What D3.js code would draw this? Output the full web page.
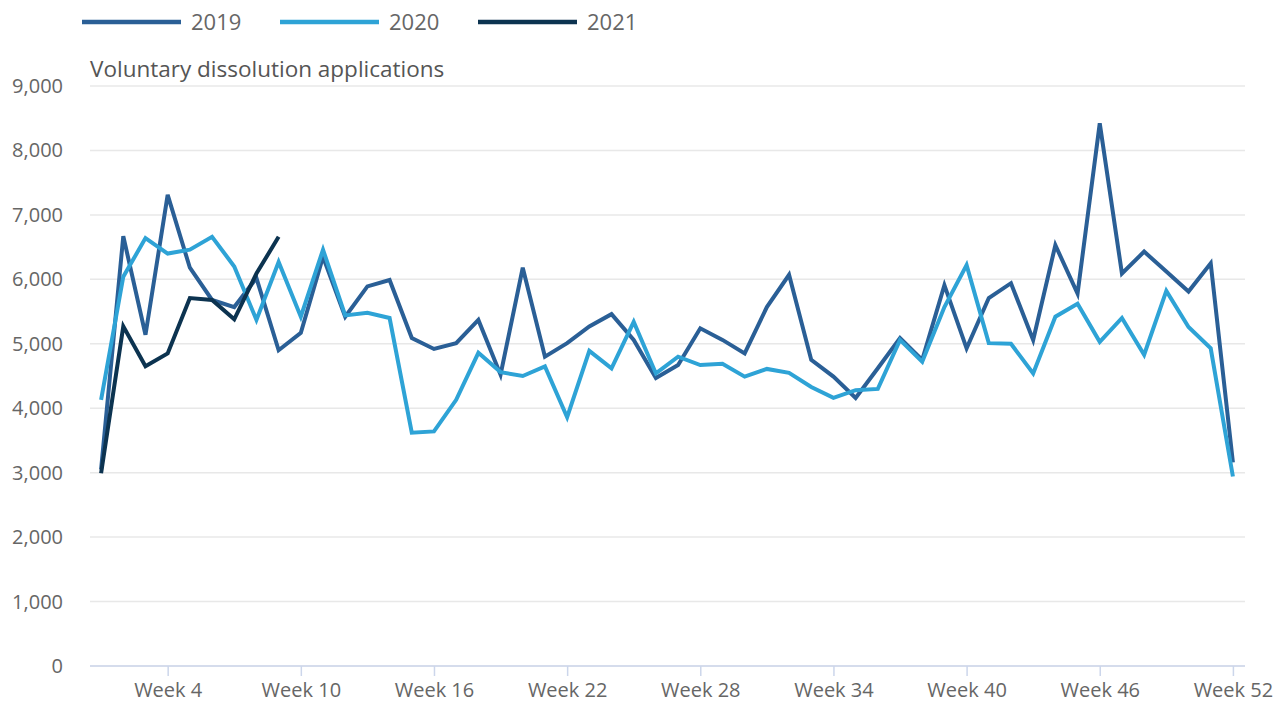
<!DOCTYPE html>
<html>
<head>
<meta charset="utf-8">
<script src="https://cdn.jsdelivr.net/npm/d3@7"></script>
<style>
  body { margin: 0; background: #fff; }
  text { font-family: "Open Sans", sans-serif; }
</style>
</head>
<body>
<div id="chart"></div>
<script>
var years = ["2019", "2020", "2021"];
var colors = ["#2a5f96", "#2ea3d6", "#0c3350"];

var v2019 = [3050, 6670, 5140, 7310, 6180, 5680, 5570, 6020, 4900, 5170,
  6350, 5420, 5890, 5990, 5090, 4920, 5010, 5370, 4520, 6180,
  4800, 5010, 5270, 5460, 5060, 4470, 4670, 5240, 5060, 4850,
  5570, 6070, 4750, 4490, 4160, 4620, 5090, 4750, 5910, 4930,
  5710, 5940, 5060, 6530, 5780, 8420, 6090, 6430, 6120, 5810,
  6250, 3160];
var v2020 = [4130, 6040, 6640, 6400, 6460, 6660, 6200, 5370, 6270, 5420,
  6460, 5440, 5480, 5400, 3620, 3640, 4130, 4860, 4560, 4500,
  4650, 3860, 4890, 4620, 5340, 4540, 4800, 4670, 4690, 4490,
  4610, 4550, 4330, 4160, 4280, 4300, 5060, 4720, 5570, 6220,
  5010, 5000, 4540, 5420, 5620, 5030, 5400, 4830, 5820, 5260,
  4930, 2940];
var v2021 = [2990, 5270, 4650, 4850, 5710, 5680, 5380, 6090, 6660];

var series = [v2019, v2020, v2021];
var tickWeeks = [4, 10, 16, 22, 28, 34, 40, 46, 52];
var yTicks = [0, 1000, 2000, 3000, 4000, 5000, 6000, 7000, 8000, 9000];

var W = 1287, H = 706;
var svg = d3.select("#chart").append("svg").attr("width", W).attr("height", H);

var x = d3.scaleLinear().domain([0.5, 52.5]).range([90, 1244]);
var y = d3.scaleLinear().domain([0, 9000]).range([666, 86]);

// gridlines
svg.append("g").selectAll("line").data(yTicks).enter().append("line")
  .attr("x1", 90).attr("x2", 1245)
  .attr("y1", function(d) { return y(d); }).attr("y2", function(d) { return y(d); })
  .attr("stroke", "#e8e8e8").attr("stroke-width", 1.5);

// y labels
svg.append("g").selectAll("text").data(yTicks).enter().append("text")
  .attr("x", 63).attr("y", function(d) { return y(d) + 7; })
  .attr("text-anchor", "end").attr("font-size", 20).attr("fill", "#666")
  .text(function(d) { return d3.format(",")(d); });

// x axis
var xAxis = d3.axisBottom(x).tickValues(tickWeeks).tickSize(10).tickPadding(7)
  .tickFormat(function(d) { return "Week " + d; });
var gx = svg.append("g").attr("transform", "translate(0,666)").call(xAxis);
gx.select(".domain").attr("stroke", "#ccd6eb").attr("stroke-width", 1.5).attr("d", "M90,0H1245");
gx.selectAll(".tick line").attr("stroke", "#ccd6eb").attr("stroke-width", 1.5);
gx.selectAll(".tick text").attr("font-size", 20).attr("fill", "#666")
  .attr("font-family", "Open Sans, sans-serif");

// subtitle
svg.append("text").attr("x", 90).attr("y", 77).attr("font-size", 22.5).attr("fill", "#555")
  .text("Voluntary dissolution applications");

// lines
var line = d3.line()
  .x(function(d, i) { return x(i + 1); })
  .y(function(d) { return y(d); });

svg.append("g").selectAll("path").data(series).enter().append("path")
  .attr("d", line)
  .attr("fill", "none")
  .attr("stroke", function(d, i) { return colors[i]; })
  .attr("stroke-width", 4)
  .attr("stroke-linejoin", "miter");

// legend
var legX = [82, 280, 478];
var leg = svg.append("g").selectAll("g").data(years).enter().append("g")
  .attr("transform", function(d, i) { return "translate(" + legX[i] + ",22)"; });
leg.append("line").attr("x1", 0).attr("x2", 99).attr("y1", 0).attr("y2", 0)
  .attr("stroke", function(d, i) { return colors[i]; }).attr("stroke-width", 4.5);
leg.append("text").attr("x", 109).attr("y", 8).attr("font-size", 22).attr("fill", "#666")
  .text(function(d) { return d; });
</script>
</body>
</html>
